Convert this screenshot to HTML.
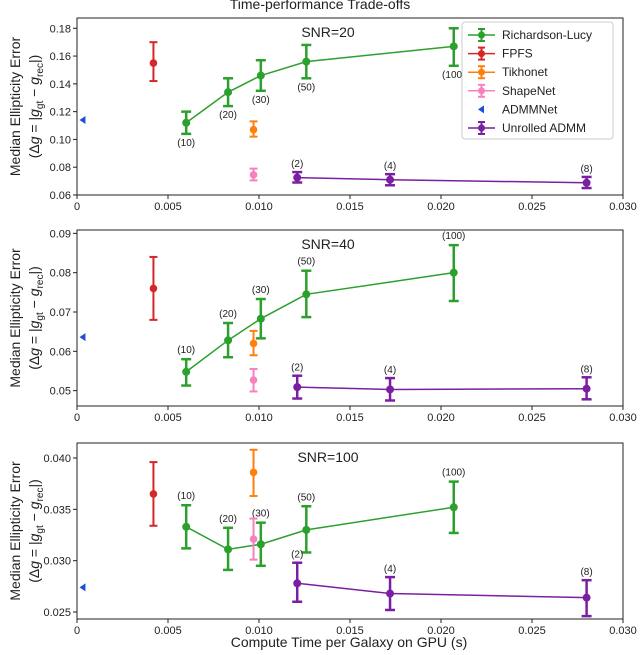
<!DOCTYPE html>
<html><head><meta charset="utf-8"><style>
body{margin:0;background:#fff;}
svg{display:block;font-family:"Liberation Sans","DejaVu Sans",sans-serif;}
</style></head><body>
<svg id="chart" width="640" height="655" viewBox="0 0 640 655"></svg>
<script>
const rlTimes=[0.0060,0.0083,0.0101,0.0126,0.0207];
const rlLabels=["(10)","(20)","(30)","(50)","(100)"];
const unTimes=[0.0121,0.0172,0.0280];
const unLabels=["(2)","(4)","(8)"];
const fpfsTime=0.0042, tikTime=0.0097, shapeTime=0.0097, admmNetTime=0.0003;
const snrLabels=["SNR=20","SNR=40","SNR=100"];
const rlMed=[[0.112,0.134,0.146,0.156,0.167],[0.0548,0.0628,0.0683,0.0745,0.080],[0.0333,0.0311,0.0316,0.0330,0.0352]];
const rlLo=[[0.104,0.124,0.135,0.144,0.153],[0.0513,0.0585,0.0633,0.0687,0.0728],[0.0312,0.0291,0.0295,0.0308,0.0327]];
const rlHi=[[0.120,0.144,0.157,0.168,0.180],[0.058,0.0672,0.0733,0.0805,0.087],[0.0354,0.0332,0.0337,0.0353,0.0377]];
const unMed=[[0.0725,0.071,0.0688],[0.0509,0.0503,0.0505],[0.0278,0.0268,0.0264]];
const unLo=[[0.069,0.067,0.065],[0.048,0.0475,0.0478],[0.0260,0.0252,0.0246]];
const unHi=[[0.0765,0.075,0.073],[0.0538,0.0532,0.0534],[0.0298,0.0284,0.0281]];
const fpfs=[[0.155,0.142,0.170],[0.076,0.068,0.084],[0.0365,0.0334,0.0396]];
const tik=[[0.107,0.102,0.113],[0.062,0.059,0.0652],[0.0386,0.0363,0.0408]];
const shape=[[0.0745,0.0705,0.079],[0.0527,0.0498,0.0555],[0.0321,0.0301,0.0341]];
const admmNet=[0.114,0.0636,0.0274];
const yTicks=[[0.06,0.08,0.10,0.12,0.14,0.16,0.18],[0.05,0.06,0.07,0.08,0.09],[0.025,0.030,0.035,0.040]];
const yDec=[2,2,3];
const xTicks=[0,0.005,0.010,0.015,0.020,0.025,0.030];
const xTickText=["0","0.005","0.010","0.015","0.020","0.025","0.030"];
// panel layout: [top,bottom,yAtTop,yAtBottom]
const panels=[[18,195,0.1874,0.06],[230,406,0.09085,0.0461],[443,619,0.04146,0.02432]];
const rlLabelBelow=[true,false,false];

const svg=document.getElementById('chart');
const NS="http://www.w3.org/2000/svg";
function el(t,a,p){const e=document.createElementNS(NS,t);for(const k in a)e.setAttribute(k,a[k]);(p||svg).appendChild(e);return e;}
const X0=77,X1=623;
function xs(v){return X0+(v/0.030)*(X1-X0);}
const GREEN="#2ca02c",RED="#d62728",ORANGE="#ff7f0e",PINK="#f781bf",BLUE="#1f4fd6",PURPLE="#7b1fa2";

const title=el('text',{x:320,y:9,'text-anchor':'middle','font-size':14,fill:'#222'});
title.textContent="Time-performance Trade-offs";



function errbar(g,x,lo,hi,c,w,cap){
  const px=xs(x);
  el('line',{x1:px,x2:px,y1:lo,y2:hi,stroke:c,'stroke-width':w},g);
  el('line',{x1:px-cap,x2:px+cap,y1:lo,y2:lo,stroke:c,'stroke-width':w},g);
  el('line',{x1:px-cap,x2:px+cap,y1:hi,y2:hi,stroke:c,'stroke-width':w},g);
}
panels.forEach((p,i)=>{
  const [top,bot,yt,yb]=p;
  const ys=v=>top+(yt-v)/(yt-yb)*(bot-top);
  const g=el('g',{});
  
  
  el('rect',{x:X0,y:top,width:X1-X0,height:bot-top,fill:'none',stroke:'#222','stroke-width':1},g);
  yTicks[i].forEach(t=>{
    const y=ys(t);
    el('line',{x1:X0-4,x2:X0,y1:y,y2:y,stroke:'#222'},g);
    const tx=el('text',{x:X0-6,y:y+4,'text-anchor':'end','font-size':11,fill:'#222'},g);
    tx.textContent=t.toFixed(yDec[i]);
  });
  xTicks.forEach((t,k)=>{
    const x=xs(t);
    el('line',{x1:x,x2:x,y1:bot,y2:bot+4,stroke:'#222'},g);
    const tx=el('text',{x:x,y:bot+15,'text-anchor':'middle','font-size':11,fill:'#222'},g);
    tx.textContent=xTickText[k];
  });
  const cy=(top+bot)/2;
  const yl=el('text',{transform:`translate(20,${cy}) rotate(-90)`,'text-anchor':'middle','font-size':14,fill:'#222'},g);
  yl.textContent="Median Ellipticity Error";
  
  
  const yl2=el('text',{transform:`translate(39,${cy}) rotate(-90)`,'text-anchor':'middle','font-size':14,fill:'#222'},g);
  yl2.innerHTML='(Δ<tspan font-style="italic">g</tspan> = |<tspan font-style="italic">g</tspan><tspan font-size="10" dy="4">gt</tspan><tspan dy="-4"> − </tspan><tspan font-style="italic">g</tspan><tspan font-size="10" dy="4">rec</tspan><tspan dy="-4">|)</tspan>';
  const st=el('text',{x:328,y:top+19,'text-anchor':'middle','font-size':14,fill:'#222'},g);
  st.textContent=snrLabels[i];
  
  
  el('polyline',{points:rlTimes.map((t,k)=>xs(t)+','+ys(rlMed[i][k])).join(' '),fill:'none',stroke:GREEN,'stroke-width':1.5},g);
  rlTimes.forEach((t,k)=>{
    errbar(g,t,ys(rlLo[i][k]),ys(rlHi[i][k]),GREEN,2.5,5);
    const c=el('circle',{cx:xs(t),cy:ys(rlMed[i][k]),r:4,fill:GREEN},g);
    
    
    const ly=rlLabelBelow[i]?ys(rlLo[i][k])+12:ys(rlHi[i][k])-6;
    const lt=el('text',{x:xs(t),y:ly,'text-anchor':'middle','font-size':10,fill:'#222'},g);
    lt.textContent=rlLabels[k];
  });
  el('polyline',{points:unTimes.map((t,k)=>xs(t)+','+ys(unMed[i][k])).join(' '),fill:'none',stroke:PURPLE,'stroke-width':1.5},g);
  unTimes.forEach((t,k)=>{
    errbar(g,t,ys(unLo[i][k]),ys(unHi[i][k]),PURPLE,2.5,5);
    const c=el('circle',{cx:xs(t),cy:ys(unMed[i][k]),r:4,fill:PURPLE},g);
    
    
    const lt=el('text',{x:xs(t),y:ys(unHi[i][k])-5,'text-anchor':'middle','font-size':10,fill:'#222'},g);
    lt.textContent=unLabels[k];
  });
  [[fpfsTime,fpfs[i],RED,'fpfs-point'],[tikTime,tik[i],ORANGE,'tikhonet-point'],[shapeTime,shape[i],PINK,'shapenet-point']].forEach(s=>{
    errbar(g,s[0],ys(s[1][1]),ys(s[1][2]),s[2],2,4);
    const c=el('circle',{cx:xs(s[0]),cy:ys(s[1][0]),r:3.8,fill:s[2]},g);
    
    
  });
  const ax=xs(admmNetTime),ay=ys(admmNet[i]);
  const tri=el('polygon',{points:`${ax-3},${ay} ${ax+3},${ay-4} ${ax+3},${ay+4}`,fill:BLUE},g);
  
  
});
const xl=el('text',{x:349,y:647,'text-anchor':'middle','font-size':14,fill:'#222'});
xl.textContent="Compute Time per Galaxy on GPU (s)";



const lg=el('g',{});


el('rect',{x:462,y:22,width:151,height:117,rx:3,fill:'#fff',stroke:'#ccc'},lg);
const legItems=[["Richardson-Lucy",GREEN,'bar'],["FPFS",RED,'bar'],["Tikhonet",ORANGE,'bar'],["ShapeNet",PINK,'bar'],["ADMMNet",BLUE,'tri'],["Unrolled ADMM",PURPLE,'bar']];
legItems.forEach((it,k)=>{
  const y=35+k*18.6;
  const e=el('g',{},lg);
  
  
  if(it[2]==='bar'){
    el('line',{x1:468,x2:495,y1:y,y2:y,stroke:it[1],'stroke-width':1.5},e);
    el('line',{x1:481.5,x2:481.5,y1:y-6,y2:y+6,stroke:it[1],'stroke-width':2},e);
    el('line',{x1:478,x2:485,y1:y-6,y2:y-6,stroke:it[1],'stroke-width':2},e);
    el('line',{x1:478,x2:485,y1:y+6,y2:y+6,stroke:it[1],'stroke-width':2},e);
    el('circle',{cx:481.5,cy:y,r:3.5,fill:it[1]},e);
  } else {
    el('polygon',{points:`478,${y} 484,${y-4} 484,${y+4}`,fill:it[1]},e);
  }
  const t=el('text',{x:502,y:y+4,'font-size':12,fill:'#222'},e);
  t.textContent=it[0];
});
</script>
</body></html>
